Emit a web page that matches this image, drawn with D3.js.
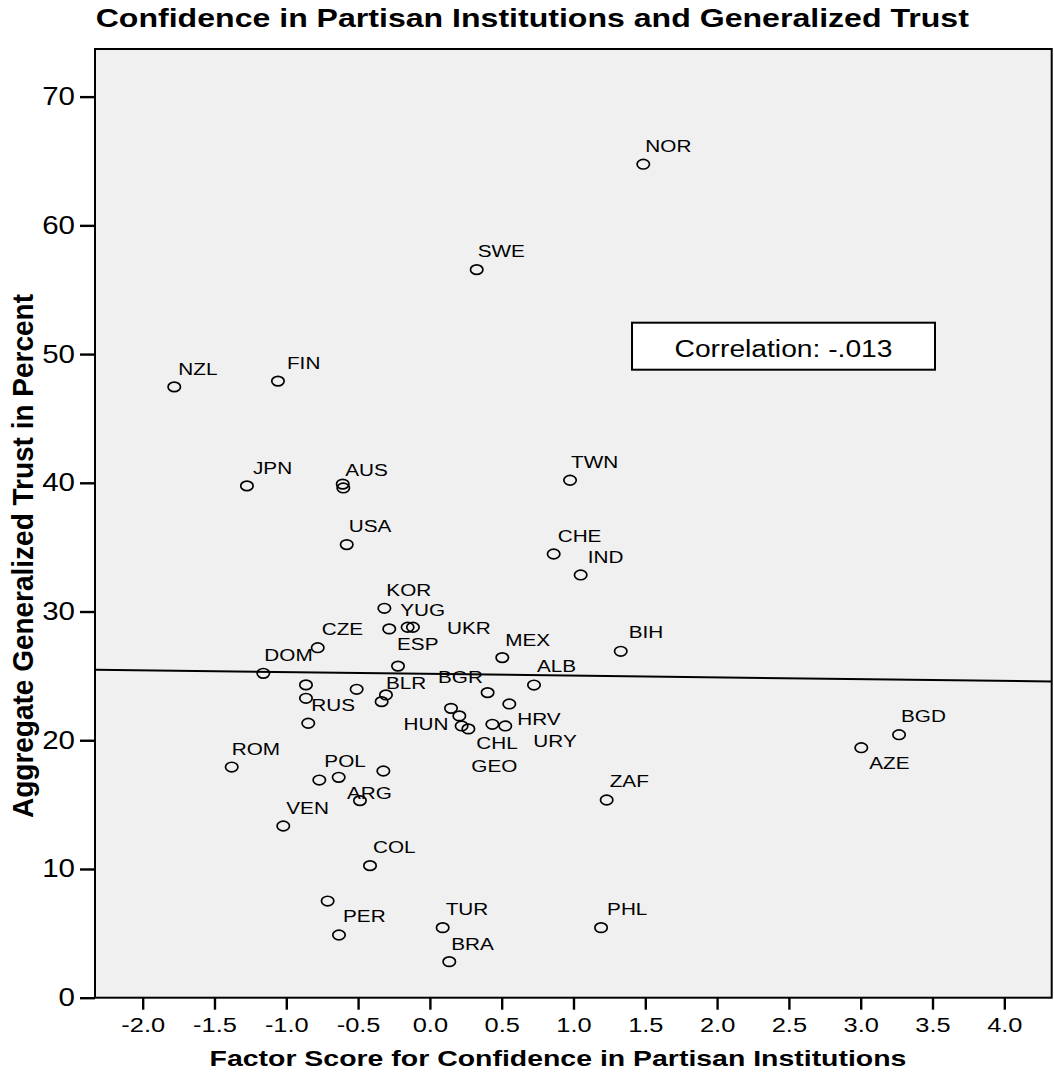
<!DOCTYPE html>
<html>
<head>
<meta charset="utf-8">
<script src="https://cdn.jsdelivr.net/npm/d3@7"></script>
<style>
  body { margin: 0; background: #fff; }
  text { font-family: Arial, "Liberation Sans", sans-serif; fill: #000; }
</style>
</head>
<body>
<div id="chart"></div>
<script>
// country codes, '' = point drawn without a label
const countries = ['NOR','SWE','NZL','FIN','JPN','','AUS','USA','TWN','CHE','IND','KOR','YUG','','UKR','ESP','CZE','DOM','','','RUS','','BLR','','MEX','ALB','','','BGR','GEO','HUN','CHL','URY','HRV','BIH','ZAF','ROM','POL','','','ARG','VEN','COL','','PER','TUR','BRA','PHL','BGD','AZE'];
const factorScores = [1.486,0.326,-1.78,-1.058,-1.274,-0.607,-0.603,-0.579,0.976,0.862,1.05,-0.317,-0.283,-0.155,-0.118,-0.222,-0.781,-1.160,-0.863,-0.863,-0.847,-0.510,-0.306,-0.336,0.504,0.725,0.402,0.553,0.147,0.205,0.221,0.268,0.435,0.525,1.329,1.231,-1.380,-0.770,-0.635,-0.324,-0.487,-1.021,-0.417,-0.712,-0.633,0.089,0.135,1.192,3.267,3.004];
const trustPercent = [64.75,56.56,47.45,47.90,39.76,39.90,39.60,35.20,40.20,34.47,32.84,30.25,28.65,28.78,28.78,25.76,27.19,25.20,24.30,23.26,21.32,23.96,23.52,23.00,26.42,24.29,23.70,22.82,22.48,21.89,21.11,20.88,21.24,21.11,26.91,15.36,17.92,16.91,17.12,17.61,15.31,13.34,10.26,7.51,4.87,5.44,2.80,5.44,20.43,19.42];

const xTicks = [-2.0,-1.5,-1.0,-0.5,0.0,0.5,1.0,1.5,2.0,2.5,3.0,3.5,4.0];
const yTicks = [0,10,20,30,40,50,60,70];

// fit line (intercept at x = 0, slope)
const fitIntercept = 25.16;
const fitSlope = -0.138;
const correlationText = 'Correlation: -.013';

const title = 'Confidence in Partisan Institutions and Generalized Trust';
const xTitle = 'Factor Score for Confidence in Partisan Institutions';
const yTitle = 'Aggregate Generalized Trust in Percent';

// label placement (pixels from the point), default is up-right
const labelNudge = {
  NOR:[2,-12], SWE:[1,-13], NZL:[4,-12], FIN:[9,-12], JPN:[6,-12], AUS:[2,-12], USA:[2,-13],
  TWN:[1,-12], CHE:[4,-12], IND:[7,-12], KOR:[2,-12], YUG:[11,-13], UKR:[34,7], ESP:[-1,-16],
  CZE:[4,-13], DOM:[1,-12], BLR:[0,-6], MEX:[3,-12], ALB:[3,-13], BGR:[-13,-25], GEO:[12,56],
  HUN:[-58,4], CHL:[8,20], URY:[41,23], HRV:[12,-1], BIH:[8,-13], ZAF:[3,-13], ROM:[0,-12],
  POL:[5,-13], ARG:[-13,-2], VEN:[3,-12], COL:[3,-13], PER:[4,-13], TUR:[3,-13], BRA:[2,-12],
  PHL:[6,-13], BGD:[2,-13], AZE:[8,21]
};

const width = 1054, height = 1078;
const plot = { left: 95, right: 1051.7, top: 49, bottom: 997.7 };
const stretch = 1.22; // the source picture is wider than tall, text is stretched

const svg = d3.select('#chart').append('svg')
  .attr('width', width)
  .attr('height', height);

const x = d3.scaleLinear().domain([-2.332, 4.33]).range([plot.left, plot.right]);
const y = d3.scaleLinear().domain([0, 73.7]).range([plot.bottom, plot.top]);

// plot background
svg.append('rect')
  .attr('x', plot.left).attr('y', plot.top)
  .attr('width', plot.right - plot.left).attr('height', plot.bottom - plot.top)
  .attr('fill', '#f0f0f0');

// fit line
svg.append('line')
  .attr('x1', x(x.domain()[0])).attr('y1', y(fitIntercept + fitSlope * x.domain()[0]))
  .attr('x2', x(x.domain()[1])).attr('y2', y(fitIntercept + fitSlope * x.domain()[1]))
  .attr('stroke', '#000').attr('stroke-width', 2);

// points
const points = countries.map((c, i) => ({ name: c, fx: factorScores[i], ty: trustPercent[i] }));

svg.append('g')
  .selectAll('ellipse')
  .data(points)
  .join('ellipse')
  .attr('cx', d => x(d.fx))
  .attr('cy', d => y(d.ty))
  .attr('rx', 6.2)
  .attr('ry', 4.8)
  .attr('fill', 'none')
  .attr('stroke', '#000')
  .attr('stroke-width', 1.7);

svg.append('g')
  .selectAll('text')
  .data(points.filter(d => d.name))
  .join('text')
  .attr('transform', d => {
    const n = labelNudge[d.name] || [3, -12];
    return `translate(${x(d.fx) + n[0]},${y(d.ty) + n[1]}) scale(${stretch},1)`;
  })
  .attr('font-size', 17)
  .text(d => d.name);

// frame
svg.append('rect')
  .attr('x', plot.left).attr('y', plot.top)
  .attr('width', plot.right - plot.left).attr('height', plot.bottom - plot.top)
  .attr('fill', 'none').attr('stroke', '#000').attr('stroke-width', 2);

//x axis (plain hyphen for negatives, as in the source)
const xAxis = svg.append('g')
  .attr('transform', `translate(0,${plot.bottom})`)
  .call(d3.axisBottom(x).tickValues(xTicks).tickFormat(d => d.toFixed(1)).tickSize(12).tickSizeOuter(0).tickPadding(8));
xAxis.select('.domain').remove();
xAxis.selectAll('line').attr('stroke-width', 2.4);
xAxis.selectAll('text')
  .attr('font-size', 20)
  .attr('font-family', 'Arial, "Liberation Sans", sans-serif')
  .attr('transform', 'scale(1.27,1)');

//y axis
const yAxis = svg.append('g')
  .attr('transform', `translate(${plot.left},0)`)
  .call(d3.axisLeft(y).tickValues(yTicks).tickSize(15).tickSizeOuter(0));
yAxis.select('.domain').remove();
yAxis.selectAll('line').attr('stroke-width', 2.4);
yAxis.selectAll('text')
  .attr('font-size', 25)
  .attr('font-family', 'Arial, "Liberation Sans", sans-serif')
  .attr('x', -20 / 1.18)
  .attr('transform', 'scale(1.18,1)');

// correlation box
svg.append('rect')
  .attr('x', 632).attr('y', 322.7).attr('width', 303).attr('height', 47)
  .attr('fill', '#fff').attr('stroke', '#000').attr('stroke-width', 2);
svg.append('text')
  .attr('transform', `translate(783.5,357.3) scale(1.227,1)`)
  .attr('text-anchor', 'middle')
  .attr('font-size', 23)
  .text(correlationText);

// titles
svg.append('text')
  .attr('transform', 'translate(95.7,26.7) scale(1.283,1)')
  .attr('font-size', 25)
  .attr('font-weight', 'bold')
  .text(title);

svg.append('text')
  .attr('transform', 'translate(558,1065.5) scale(1.237,1)')
  .attr('text-anchor', 'middle')
  .attr('font-size', 23)
  .attr('font-weight', 'bold')
  .text(xTitle);

svg.append('text')
  .attr('transform', 'translate(33,556) scale(1.05,1) rotate(-90)')
  .attr('text-anchor', 'middle')
  .attr('font-size', 28)
  .attr('font-weight', 'bold')
  .text(yTitle);
</script>
</body>
</html>
